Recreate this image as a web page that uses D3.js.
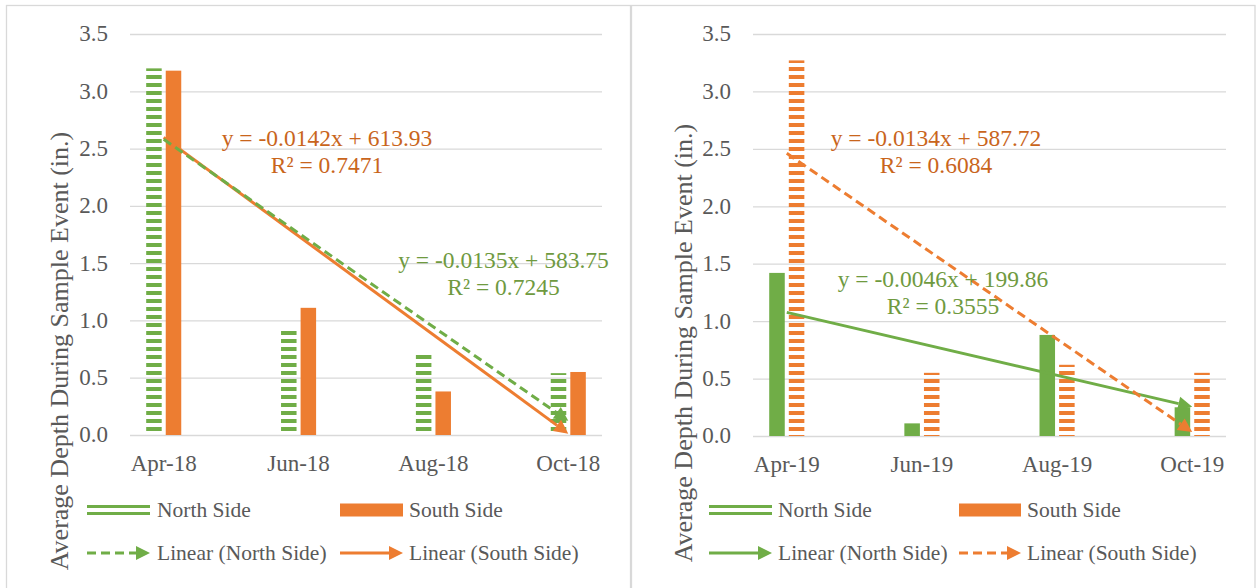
<!DOCTYPE html>
<html><head><meta charset="utf-8">
<script src="https://cdn.jsdelivr.net/npm/d3@7"></script>
</head>
<body style="margin:0">
<svg id="c" width="1260" height="588"></svg>
<script>
// ---------------- data ----------------
const categories2018 = ["Apr-18", "Jun-18", "Aug-18", "Oct-18"];
const categories2019 = ["Apr-19", "Jun-19", "Aug-19", "Oct-19"];
const monthOffsets = [0, 2, 4, 6];           // months after April (date axis)
const north2018 = [3.20, 0.94, 0.73, 0.54];
const south2018 = [3.18, 1.11, 0.38, 0.55];
const north2019 = [1.42, 0.11, 0.88, 0.25];
const south2019 = [3.27, 0.55, 0.62, 0.55];
const yTicks = [0, 0.5, 1.0, 1.5, 2.0, 2.5, 3.0, 3.5];
const seriesNames = ["North Side", "South Side", "Linear (North Side)", "Linear (South Side)"];
const eq2018North = ["y = -0.0135x + 583.75", "R² = 0.7245"];
const eq2018South = ["y = -0.0142x + 613.93", "R² = 0.7471"];
const eq2019North = ["y = -0.0046x + 199.86", "R² = 0.3555"];
const eq2019South = ["y = -0.0134x + 587.72", "R² = 0.6084"];
const yTitle = "Average Depth During Sample Event (in.)";

// ---------------- style ----------------
const FONT = "Liberation Serif";
const GREEN = "#70AD47", ORANGE = "#ED7D31";
const GREEN_TXT = "#6F9A3F", ORANGE_TXT = "#C9651C";
const GRID = "#D9D9D9", TXT = "#595959";

const svg = d3.select("#c");
const defs = svg.append("defs");

function stripePattern(id, color) {
  const p = defs.append("pattern").attr("id", id).attr("patternUnits", "userSpaceOnUse")
    .attr("width", 8).attr("height", 8).attr("y", 3);
  p.append("rect").attr("width", 8).attr("height", 4).attr("fill", color);
}
stripePattern("stripeG", GREEN);
stripePattern("stripeO", ORANGE);

function arrowMarker(id, color) {
  defs.append("marker").attr("id", id).attr("markerUnits", "userSpaceOnUse")
    .attr("markerWidth", 16).attr("markerHeight", 14).attr("refX", 0).attr("refY", 7)
    .attr("orient", "auto").attr("overflow", "visible")
    .append("path").attr("d", "M0,0 L14,7 L0,14 Z").attr("fill", color);
}
arrowMarker("arrG", GREEN);
arrowMarker("arrO", ORANGE);
const ARROW_LEN = 14;

function regress(xs, ys) {
  const mx = d3.mean(xs), my = d3.mean(ys);
  const sxy = d3.sum(xs, (x, i) => (x - mx) * (ys[i] - my));
  const sxx = d3.sum(xs, x => (x - mx) * (x - mx));
  const b = sxy / sxx;
  return x => my + b * (x - mx);
}

function drawArrowLine(g, x1, y1, x2, y2, color, dashed, markerId) {
  const dx = x2 - x1, dy = y2 - y1, L = Math.hypot(dx, dy);
  const ex = x2 - dx / L * ARROW_LEN, ey = y2 - dy / L * ARROW_LEN;
  g.append("line").attr("x1", x1).attr("y1", y1).attr("x2", ex).attr("y2", ey)
    .attr("stroke", color).attr("stroke-width", 3)
    .attr("stroke-dasharray", dashed ? "9,5" : null)
    .attr("marker-end", `url(#${markerId})`);
}

function addText(parent, size) {
  return parent.append("text").style("font-family", FONT).attr("font-size", size);
}

const panels = [
  { frame: [6.5, 5.5, 624, 600], xr: [130, 602], yr: [435, 34], cats: categories2018,
    north: north2018, south: south2018, northStriped: true, southStriped: false,
    northDash: true, southDash: false,
    eqN: eq2018North, eqNpos: [503.5, 268], eqS: eq2018South, eqSpos: [327, 146],
    title: [68, 351], legend: { x1: 87, x2: 150, t1: 157, x3: 340, x4: 403, t2: 409 } },
  { frame: [631.5, 5.5, 623.5, 600], xr: [753, 1226], yr: [436, 34], cats: categories2019,
    north: north2019, south: south2019, northStriped: false, southStriped: true,
    northDash: false, southDash: true,
    eqN: eq2019North, eqNpos: [943, 287], eqS: eq2019South, eqSpos: [936, 146],
    title: [692, 343], legend: { x1: 709, x2: 772, t1: 778, x3: 959, x4: 1021, t2: 1027 } }
];

panels.forEach(P => {
  const g = svg.append("g");
  g.append("rect").attr("x", P.frame[0]).attr("y", P.frame[1]).attr("width", P.frame[2]).attr("height", P.frame[3])
    .attr("fill", "#fff").attr("stroke", GRID).attr("stroke-width", 1.3);

  const x = d3.scaleLinear().domain([-0.5, 6.5]).range(P.xr);
  const y = d3.scaleLinear().domain([0, 3.5]).range(P.yr);
  const W = P.xr[1] - P.xr[0];

  // y axis + grid (labels drawn as own texts)
  const ya = g.append("g").attr("transform", `translate(${P.xr[0]},0)`)
    .call(d3.axisLeft(y).tickValues(yTicks).tickFormat("").tickSize(-W));
  ya.select(".domain").remove();
  ya.selectAll(".tick text").remove();
  ya.selectAll(".tick line").attr("stroke", GRID).attr("stroke-width", 1.3);
  const fmt = d3.format(".1f");
  yTicks.forEach(v => addText(g, 23).attr("x", P.xr[0] - 22).attr("y", y(v)).attr("dy", "0.32em")
    .attr("text-anchor", "end").attr("fill", TXT).text(fmt(v)));

  // x axis labels
  const xa = g.append("g").attr("transform", `translate(0,${P.yr[0]})`)
    .call(d3.axisBottom(x).tickValues(monthOffsets).tickFormat("").tickSize(0));
  xa.select(".domain").remove();
  xa.selectAll(".tick text").remove();
  monthOffsets.forEach((m, i) => addText(g, 23).attr("x", x(m)).attr("y", P.yr[0] + 36)
    .attr("text-anchor", "middle").attr("fill", TXT).text(P.cats[i]));

  // bars
  const month = x(1) - x(0);
  const bw = month * 0.23, gap = month * 0.06;
  g.selectAll(".bn").data(P.north).join("rect")
    .attr("x", (d, i) => x(monthOffsets[i]) - gap / 2 - bw).attr("width", bw)
    .attr("y", d => y(d)).attr("height", d => y(0) - y(d))
    .attr("fill", P.northStriped ? "url(#stripeG)" : GREEN);
  g.selectAll(".bs").data(P.south).join("rect")
    .attr("x", (d, i) => x(monthOffsets[i]) + gap / 2).attr("width", bw)
    .attr("y", d => y(d)).attr("height", d => y(0) - y(d))
    .attr("fill", P.southStriped ? "url(#stripeO)" : ORANGE);

  // trendlines
  const fN = regress(monthOffsets, P.north), fS = regress(monthOffsets, P.south);
  const xa0 = monthOffsets[0], xa1 = monthOffsets[monthOffsets.length - 1];
  const drawN = () => drawArrowLine(g, x(xa0), y(fN(xa0)), x(xa1), y(fN(xa1)), GREEN, P.northDash, "arrG");
  const drawS = () => drawArrowLine(g, x(xa0), y(fS(xa0)), x(xa1), y(fS(xa1)), ORANGE, P.southDash, "arrO");
  if (P.northDash) { drawS(); drawN(); } else { drawN(); drawS(); }

  // equation labels
  function eq(lines, pos, color) {
    lines.forEach((s, i) => addText(g, 23.5).attr("text-anchor", "middle").attr("fill", color)
      .attr("x", pos[0]).attr("y", pos[1] + i * 27).text(s));
  }
  eq(P.eqS, P.eqSpos, ORANGE_TXT);
  eq(P.eqN, P.eqNpos, GREEN_TXT);

  // y title
  addText(g, 26).attr("transform", `translate(${P.title[0]},${P.title[1]}) rotate(-90)`)
    .attr("text-anchor", "middle").attr("fill", TXT).text(yTitle);

  // legend
  const L = P.legend, r1 = 510, r2 = 553;
  const lg = g.append("g");
  lg.append("line").attr("x1", L.x1).attr("x2", L.x2).attr("y1", r1 - 3.5).attr("y2", r1 - 3.5).attr("stroke", GREEN).attr("stroke-width", 3);
  lg.append("line").attr("x1", L.x1).attr("x2", L.x2).attr("y1", r1 + 3.5).attr("y2", r1 + 3.5).attr("stroke", GREEN).attr("stroke-width", 3);
  lg.append("rect").attr("x", L.x3).attr("y", r1 - 6.5).attr("width", L.x4 - L.x3).attr("height", 13).attr("fill", ORANGE);
  drawArrowLine(lg, L.x1, r2, L.x2, r2, GREEN, P.northDash, "arrG");
  drawArrowLine(lg, L.x3, r2, L.x4, r2, ORANGE, P.southDash, "arrO");
  const lt = [[L.t1, r1, seriesNames[0]], [L.t2, r1, seriesNames[1]], [L.t1, r2, seriesNames[2]], [L.t2, r2, seriesNames[3]]];
  lt.forEach(d => addText(lg, 21.5).attr("x", d[0]).attr("y", d[1]).attr("dy", "0.34em")
    .attr("fill", TXT).text(d[2]));
});
</script>
</body></html>
